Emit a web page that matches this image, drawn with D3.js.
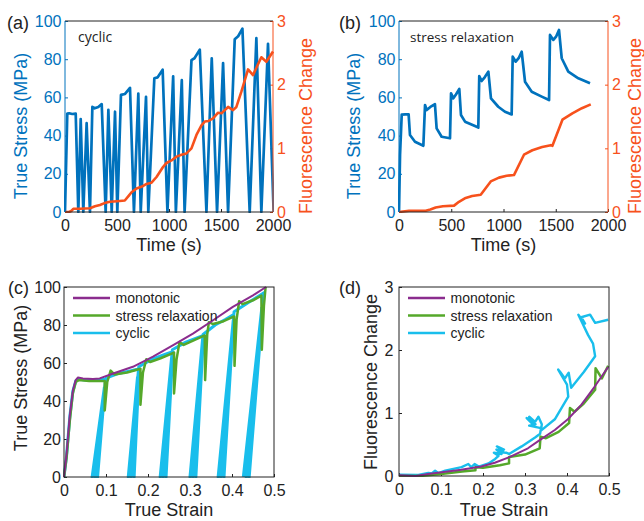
<!DOCTYPE html>
<html><head><meta charset="utf-8">
<script src="https://cdn.jsdelivr.net/npm/d3@7"></script>
<style>body{margin:0;background:#fff}svg{display:block}</style>
</head><body>
<svg id="c" width="644" height="521"></svg>
<script>
// ---------- DATA ----------
// Panel (a): cyclic test, [time s, stress MPa]
const stressCyclicA = [
[0,0],[22,51.5],[40,51.7],[70,51.3],[103,51.5],[128,0],[151,48.7],[176,0],[208,46.5],[240,0],
[263,55],[285,54.3],[320,55],[353,56.5],[391,0],[417,53.5],[449,0],[481,52.5],[503,0],
[538,61.3],[577,61.8],[625,65],[663,0],[705,62],[728,0],[779,60.3],[801,0],
[859,70],[891,70.5],[939,74.5],[985,0],[1040,71],[1066,0],[1123,69],[1150,0],
[1216,79.5],[1245,80.5],[1296,85],[1360,0],[1411,80.5],[1462,0],[1520,78],[1568,0],
[1632,90.4],[1665,92],[1706,96],[1776,0],[1840,91],[1888,0],[1952,88],[2006,0]];
// Panel (a): [time s, fluorescence change]
const fluorCyclicA = [
[0,0],[40,0],[64,0.02],[80,0.05],[144,0.05],[240,0.06],[288,0.09],[336,0.11],[380,0.14],[432,0.16],
[500,0.17],[575,0.18],[610,0.25],[640,0.31],[688,0.37],[740,0.4],[784,0.44],[832,0.46],[880,0.55],
[944,0.71],[976,0.77],[1024,0.81],[1072,0.87],[1120,0.9],[1168,0.92],[1216,1.0],[1264,1.21],[1312,1.36],
[1344,1.42],[1380,1.43],[1424,1.47],[1472,1.56],[1504,1.55],[1568,1.65],[1616,1.6],[1648,1.65],
[1696,1.89],[1760,2.24],[1808,2.15],[1850,2.3],[1888,2.43],[1936,2.36],[2000,2.52]];
// Panel (b): stress relaxation test, [time s, stress MPa]
const stressRelaxB = [
[0,0],[10,30],[26,51],[60,51.1],[92,51.1],[105,40.3],[153,36.8],[233,34.7],[249,56],[265,53.4],[300,55],[344,56.4],
[360,43.8],[408,39.4],[488,38.6],[498,62.1],[520,59.5],[545,61.5],[577,64.4],[593,50.8],[632,47.3],[727,45],[759,44.2],
[768,71.2],[791,68.6],[820,70.5],[855,73.5],[880,59.5],[950,55.1],[1014,52.5],[1078,51.1],
[1088,81.3],[1117,78.7],[1145,80.5],[1174,83.9],[1206,68.2],[1270,63],[1366,60.4],[1436,58.6],
[1445,92.7],[1477,90.1],[1505,92],[1531,95.3],[1557,80.5],[1620,73.5],[1716,70],[1828,67.4]];
// Panel (b): [time s, fluorescence change]
const fluorRelaxB = [
[0,0],[96,0.02],[256,0.02],[300,0.04],[351,0.07],[420,0.09],[527,0.1],[574,0.16],[638,0.22],[700,0.25],[782,0.27],
[878,0.48],[957,0.54],[1030,0.57],[1100,0.58],[1196,0.9],[1276,0.97],[1370,1.02],[1452,1.05],[1468,1.04],
[1564,1.45],[1659,1.55],[1750,1.63],[1835,1.69]];
// Panel (c): [true strain, true stress MPa]
const monoC = [
[0,0],[0.0056,10.8],[0.0135,31.8],[0.0214,45.8],[0.0278,51],[0.0333,52.4],[0.045,51.9],[0.069,51.6],[0.085,51.9],
[0.117,54.5],[0.164,58],[0.212,63.3],[0.26,69.4],[0.307,75.5],[0.355,82.5],[0.402,89.5],[0.45,95.6],[0.481,100]];
const relaxC = [
[0,0],[0.006,10],[0.014,30],[0.021,44],[0.028,50],[0.035,51],[0.06,50.5],[0.097,50.5],[0.097,35],[0.103,50],[0.111,56],
[0.12,54],[0.15,55],[0.182,57],[0.182,38],[0.188,55],[0.196,62],[0.205,60.5],[0.23,62.5],[0.262,65.5],[0.262,44],
[0.268,62],[0.275,71],[0.285,69.5],[0.31,72],[0.335,74.5],[0.336,51],[0.341,75],[0.345,81.5],[0.355,80.5],[0.38,82],
[0.405,84.5],[0.406,58.5],[0.411,83],[0.417,92.5],[0.425,91],[0.45,93],[0.47,95.5],[0.471,67],[0.476,90],[0.48,100]];
const cyclicC = [
[0,0],[0.006,11],[0.014,32],[0.021,45],[0.028,50.5],[0.035,51.5],[0.05,51],[0.07,51],[0.099,51.5],
[0.08,0],[0.098,49],[0.074,0],[0.096,47],[0.067,0],
[0.1,52],[0.13,54.5],[0.16,56],[0.179,57],
[0.167,0],[0.177,54],[0.16,0],[0.175,52.5],[0.153,0],
[0.178,58],[0.21,62],[0.24,64.5],[0.259,66],
[0.243,0],[0.257,62],[0.236,0],[0.255,60],[0.229,0],
[0.258,67],[0.29,71],[0.332,74.5],
[0.314,0],[0.331,71],[0.307,0],[0.329,69],[0.3,0],
[0.331,75],[0.36,80],[0.385,83],[0.404,85.5],
[0.381,0],[0.403,81],[0.374,0],[0.401,78],[0.367,0],
[0.405,87],[0.44,92],[0.476,97],
[0.441,0],[0.474,92],[0.434,0],[0.471,89],[0.427,0]];
// Panel (d): [true strain, fluorescence change]
const monoD = [
[0,0.01],[0.04,0.0],[0.069,0.03],[0.148,0.1],[0.196,0.15],[0.228,0.21],[0.263,0.3],[0.307,0.44],[0.335,0.57],
[0.371,0.73],[0.402,0.9],[0.434,1.13],[0.466,1.42],[0.498,1.73]];
const relaxD = [
[0,0],[0.05,0.0],[0.1,0.03],[0.15,0.07],[0.182,0.09],[0.182,0.14],[0.2,0.13],[0.24,0.17],[0.262,0.2],[0.262,0.3],
[0.3,0.34],[0.335,0.44],[0.337,0.625],[0.35,0.6],[0.38,0.7],[0.405,0.84],[0.407,1.08],[0.418,1.02],[0.44,1.15],
[0.467,1.37],[0.468,1.71],[0.483,1.55],[0.498,1.75]];
const cyclicD = [
[0,0.02],[0.046,0.016],[0.07,0.05],[0.078,0.04],[0.086,0.085],[0.094,0.045],[0.11,0.085],
[0.149,0.14],[0.165,0.19],[0.172,0.14],[0.18,0.19],[0.19,0.15],[0.213,0.2],
[0.229,0.27],[0.237,0.32],[0.226,0.37],[0.244,0.35],[0.232,0.42],[0.248,0.39],[0.233,0.47],[0.25,0.42],[0.24,0.38],[0.255,0.37],[0.262,0.35],
[0.292,0.47],[0.324,0.61],[0.336,0.67],[0.338,0.76],[0.31,0.8],[0.325,0.82],[0.304,0.92],[0.316,0.84],[0.31,0.94],[0.324,0.86],[0.332,0.94],[0.34,0.82],[0.338,0.72],
[0.371,0.9],[0.403,1.26],[0.40,1.45],[0.379,1.69],[0.391,1.58],[0.383,1.66],[0.395,1.55],[0.404,1.64],[0.41,1.4],
[0.44,1.65],[0.467,1.9],[0.462,2.1],[0.45,2.24],[0.427,2.56],[0.443,2.42],[0.434,2.52],[0.455,2.56],[0.467,2.43],[0.498,2.48]];
// ticks & labels
const timeTicks = [0,500,1000,1500,2000];
const stressTicks = [0,20,40,60,80,100];
const fluorTicks = [0,1,2,3];
const strainTicks = [0,0.1,0.2,0.3,0.4,0.5];
const legendLabels = ["monotonic","stress relaxation","cyclic"];

// ---------- DRAW ----------
const BLUE="#0072BD", ORANGE="#F7511C", PURPLE="#8B2C8E", GREEN="#55A82A", CYAN="#19BEEC";
const FONT='"Liberation Sans", Arial, Helvetica, sans-serif';
const FONT2='"Open Sans", "Liberation Sans", sans-serif';
const TICK=16, TITLE=18;
const svg=d3.select("#c");
let clipN=0;
const intFmt=d3.format("d");

function styleAxis(sel,color){
  sel.select(".domain").remove();
  sel.selectAll("line").attr("stroke",color).attr("stroke-width",1);
  sel.selectAll("text").attr("fill",color).attr("font-family",FONT).attr("font-size",TICK);
}
function clip(l,r,t,b){
  const id="cl"+(clipN++);
  svg.append("clipPath").attr("id",id).append("rect").attr("x",l-1).attr("y",t-2).attr("width",r-l+2).attr("height",b-t+3);
  return "url(#"+id+")";
}
function path(g,data,x,y,color,w,cp){
  g.append("path").datum(data).attr("d",d3.line().x(d=>x(d[0])).y(d=>y(d[1])))
   .attr("fill","none").attr("stroke",color).attr("stroke-width",w).attr("stroke-linejoin","round").attr("clip-path",cp);
}
function text(s,x,y,size,fill,opts={}){
  const t=svg.append("text").attr("x",x).attr("y",y).text(s).attr("font-family",opts.family||FONT)
    .attr("font-size",size).attr("fill",fill).attr("text-anchor",opts.anchor||"start");
  if(opts.rot) t.attr("transform",`rotate(-90,${x},${y})`);
  return t;
}

function dualPanel(c){
  const x=d3.scaleLinear().domain([0,2000]).range([c.l,c.r]);
  const yL=d3.scaleLinear().domain([0,100]).range([c.b,c.t]);
  const yR=d3.scaleLinear().domain([0,3]).range([c.b,c.t]);
  const g=svg.append("g");
  const cp=clip(c.l,c.r,c.t,c.b);
  g.append("g").attr("transform",`translate(0,${c.b})`)
    .call(d3.axisBottom(x).tickValues(timeTicks).tickFormat(intFmt).tickSizeInner(-3).tickSizeOuter(0).tickPadding(8)).call(s=>styleAxis(s,"#222"));
  g.append("g").attr("transform",`translate(${c.l},0)`)
    .call(d3.axisLeft(yL).tickValues(stressTicks).tickFormat(intFmt).tickSizeInner(-3).tickSizeOuter(0).tickPadding(3.5)).call(s=>styleAxis(s,BLUE));
  g.append("g").attr("transform",`translate(${c.r},0)`)
    .call(d3.axisRight(yR).tickValues(fluorTicks).tickFormat(intFmt).tickSizeInner(-3).tickSizeOuter(0).tickPadding(4)).call(s=>styleAxis(s,ORANGE));
  path(g,c.stress,x,yL,BLUE,2.7,cp);
  path(g,c.fluor,x,yR,ORANGE,2.6,cp);
  g.append("line").attr("x1",c.l).attr("x2",c.r).attr("y1",c.t).attr("y2",c.t).attr("stroke","#222");
  g.append("line").attr("x1",c.l).attr("x2",c.r).attr("y1",c.b).attr("y2",c.b).attr("stroke","#222");
  g.append("line").attr("x1",c.l).attr("x2",c.l).attr("y1",c.t).attr("y2",c.b).attr("stroke",BLUE);
  g.append("line").attr("x1",c.r).attr("x2",c.r).attr("y1",c.t).attr("y2",c.b).attr("stroke",ORANGE);
  text("Time (s)",(c.l+c.r)/2,251,TITLE,"#222",{anchor:"middle"});
  text("True Stress (MPa)",c.lx,c.ly,TITLE,BLUE,{anchor:"middle",rot:true});
  text("Fluorescence Change",c.rx,c.ly,TITLE,ORANGE,{anchor:"middle",rot:true});
  text(c.letter,c.letX,29,18,"#222");
  text(c.note,c.noteX,42,c.noteSize,"#222",{family:FONT2});
}

function strainPanel(c){
  const x=d3.scaleLinear().domain([0,0.5]).range([c.l,c.r]);
  const y=d3.scaleLinear().domain(c.ydom).range([c.b,c.t]);
  const g=svg.append("g");
  const cp=clip(c.l,c.r,c.t,c.b);
  g.append("g").attr("transform",`translate(0,${c.b})`)
    .call(d3.axisBottom(x).tickValues(strainTicks).tickFormat(d=>d===0?"0":d3.format(".1f")(d)).tickSizeInner(-3).tickSizeOuter(0).tickPadding(8))
    .call(s=>styleAxis(s,"#222"));
  g.append("g").attr("transform",`translate(${c.l},0)`)
    .call(d3.axisLeft(y).tickValues(c.yticks).tickFormat(intFmt).tickSizeInner(-3).tickSizeOuter(0).tickPadding(c.ypad)).call(s=>styleAxis(s,"#222"));
  path(g,c.cyc,x,y,CYAN,c.cw,cp);
  path(g,c.rel,x,y,GREEN,2.5,cp);
  path(g,c.mono,x,y,PURPLE,2,cp);
  g.append("rect").attr("x",c.l).attr("y",c.t).attr("width",c.r-c.l).attr("height",c.b-c.t).attr("fill","none").attr("stroke","#222");
  const cols=[PURPLE,GREEN,CYAN], rows=[298,315.5,333];
  legendLabels.forEach((lab,i)=>{
    g.append("line").attr("x1",c.lg0).attr("x2",c.lg1).attr("y1",rows[i]).attr("y2",rows[i]).attr("stroke",cols[i]).attr("stroke-width",2.5);
    text(lab,c.lg1+5.5,rows[i]+5,14,"#222");
  });
  text("True Strain",(c.l+c.r)/2,516,TITLE,"#222",{anchor:"middle"});
  text(c.ylabel,c.lx,c.ly,TITLE,"#222",{anchor:"middle",rot:true});
  text(c.letter,c.letX,294,18,"#222");
}

dualPanel({l:65,r:273,t:21,b:212,stress:stressCyclicA,fluor:fluorCyclicA,lx:27,rx:312,ly:126,letter:"(a)",letX:7,note:"cyclic",noteX:78,noteSize:14});
dualPanel({l:399,r:608,t:21,b:212,stress:stressRelaxB,fluor:fluorRelaxB,lx:360,rx:641,ly:126,letter:"(b)",letX:339,note:"stress relaxation",noteX:410,noteSize:13.5});
strainPanel({l:64,r:274,t:287,b:477,ydom:[0,100],yticks:stressTicks,ypad:3,cyc:cyclicC,rel:relaxC,mono:monoC,cw:3,lg0:73,lg1:110,lx:27,ly:378,ylabel:"True Stress (MPa)",letter:"(c)",letX:8});
strainPanel({l:399,r:609,t:287,b:476,ydom:[0,3],yticks:fluorTicks,ypad:5.5,cyc:cyclicD,rel:relaxD,mono:monoD,cw:2.4,lg0:408,lg1:445,lx:377,ly:382,ylabel:"Fluorescence Change",letter:"(d)",letX:339});
</script>
</body></html>
